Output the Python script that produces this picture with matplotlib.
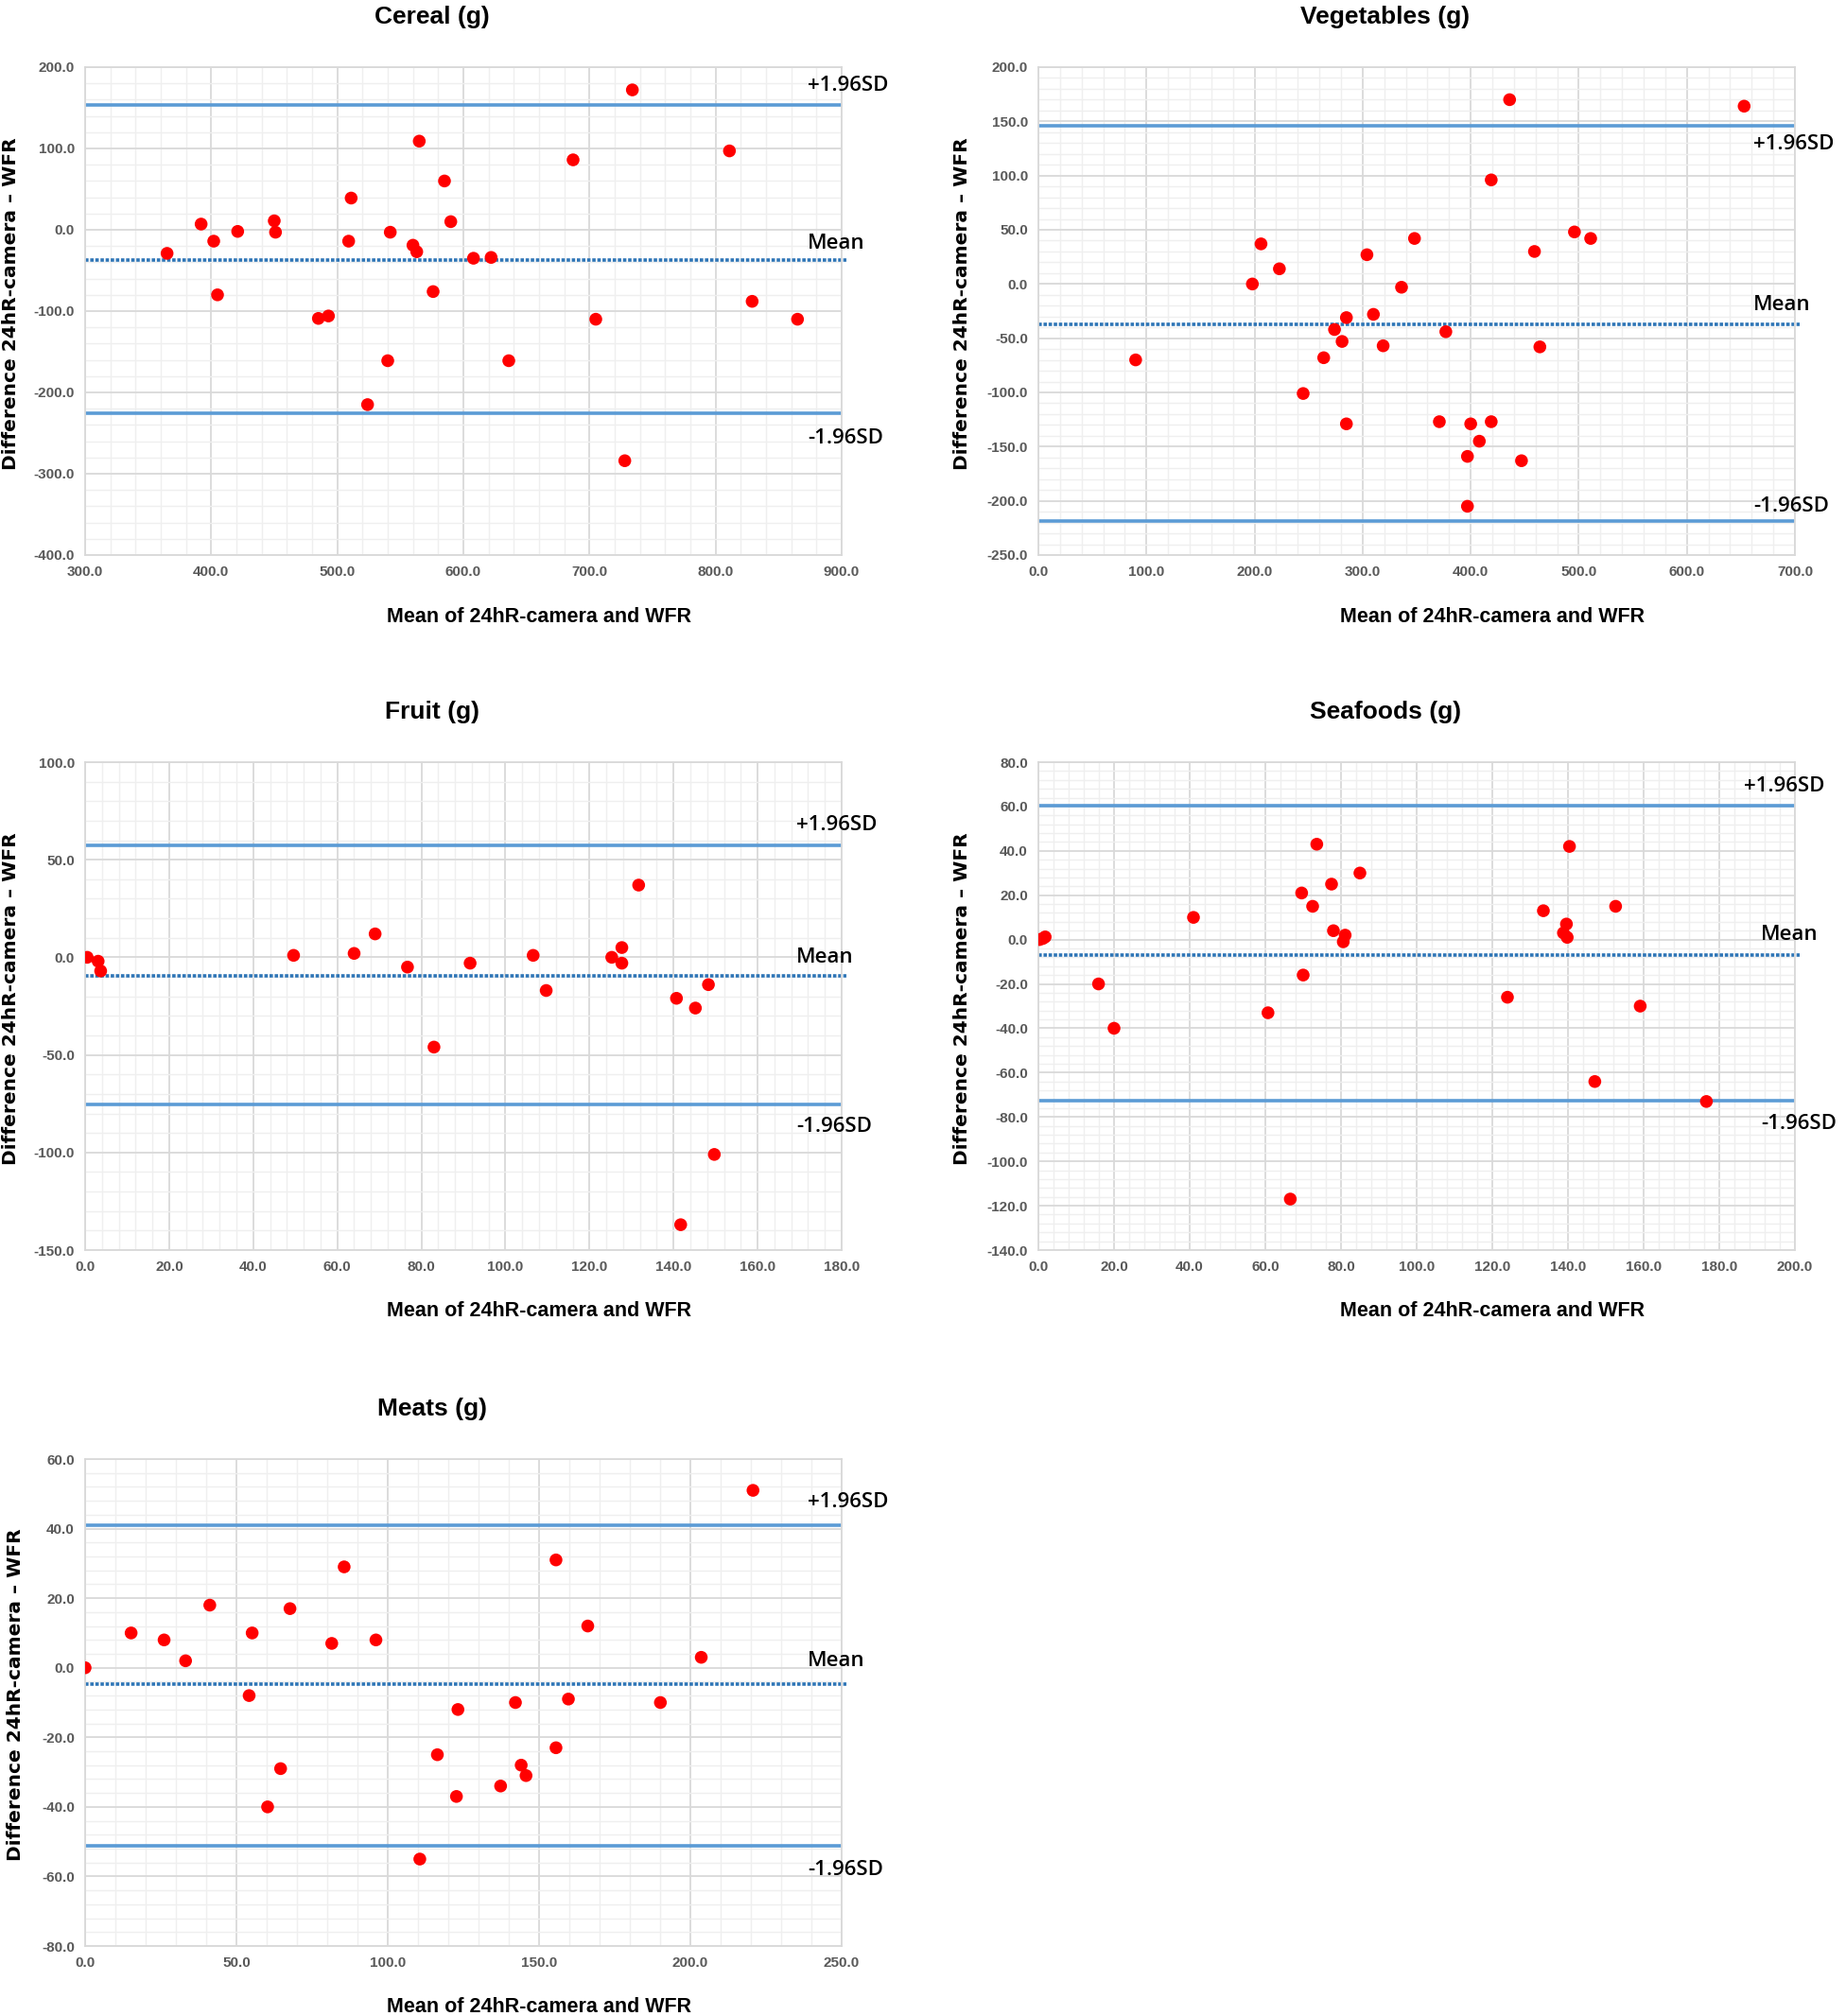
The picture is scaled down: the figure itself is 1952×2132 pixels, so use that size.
import matplotlib
matplotlib.use("Agg")
import matplotlib.pyplot as plt
from matplotlib.ticker import MultipleLocator, FormatStrFormatter
import matplotlib.transforms as mtransforms

plt.rcParams['font.family'] = ['Liberation Sans', 'DejaVu Sans']

# ---------------- data ----------------
titles = ["Cereal (g)", "Vegetables (g)", "Fruit (g)", "Seafoods (g)", "Meats (g)"]

cereal_x = [365, 392, 402, 405, 421, 450, 451, 485, 493, 509, 511, 524, 540, 542, 560,
            563, 565, 576, 585, 590, 608, 622, 636, 687, 705, 728, 734, 811, 829, 865]
cereal_y = [-29, 7, -14, -80, -2, 11, -3, -109, -106, -14, 39, -215, -161, -3, -19,
            -27, 109, -76, 60, 10, -35, -34, -161, 86, -110, -284, 172, 97, -88, -110]
cereal_loa = [154, -37, -226]

veg_x = [90, 198, 206, 223, 245, 264, 274, 281, 285, 285, 304, 310, 319, 336, 348,
         371, 377, 397, 397, 400, 408, 419, 419, 436, 447, 459, 464, 496, 511, 653]
veg_y = [-70, 0, 37, 14, -101, -68, -42, -53, -31, -129, 27, -28, -57, -3, 42,
         -127, -44, -159, -205, -129, -145, -127, 96, 170, -163, 30, -58, 48, 42, 164]
veg_loa = [146, -37, -219]

fruit_x = [0.5, 3.1, 3.7, 49.6, 64.0, 69.0, 76.7, 83.0, 91.6, 106.6, 109.7, 125.3, 127.7,
           127.7, 131.7, 140.7, 141.7, 145.2, 148.3, 149.7]
fruit_y = [0, -2, -7, 1, 2, 12, -5, -46, -3, 1, -17, 0, 5, -3, 37, -21, -137, -26, -14, -101]
fruit_loa = [57.2, -9.4, -75.5]

sea_x = [0.3, 1.2, 1.8, 15.9, 20.0, 41.0, 60.7, 66.6, 69.6, 70.0, 72.5, 73.6, 77.5, 78.0,
         80.6, 81.1, 85.0, 124.0, 133.5, 138.8, 139.6, 139.8, 140.4, 147.1, 152.6, 159.1, 176.6]
sea_y = [0, 0.5, 1.2, -20, -40, 10, -33, -117, 21, -16, 15, 43, 25, 4,
         -1, 2, 30, -26, 13, 3, 7, 1, 42, -64, 15, -30, -73]
sea_loa = [60.4, -6.9, -72.7]

meat_x = [0, 15.2, 26.1, 33.2, 41.2, 54.2, 55.2, 60.3, 64.6, 67.7, 81.5, 85.6, 96.1, 110.6,
          116.4, 122.7, 123.2, 137.3, 142.2, 144.1, 145.7, 155.6, 155.6, 159.7, 166.1,
          190.1, 203.6, 220.7]
meat_y = [0, 10, 8, 2, 18, -8, 10, -40, -29, 17, 7, 29, 8, -55,
          -25, -37, -12, -34, -10, -28, -31, -23, 31, -9, 12,
          -10, 3, 51]
meat_loa = [41.1, -4.6, -51.3]

line_labels = ["+1.96SD", "Mean", "-1.96SD"]
xlabel = "Mean of 24hR-camera and WFR"
ylabel = "Difference 24hR-camera \u2013 WFR"

# ---------------- layout ----------------
W, H = 1952, 2132
fig = plt.figure(figsize=(W / 100, H / 100), dpi=100)

panels = [
    dict(x=cereal_x, y=cereal_y, loa=cereal_loa, xlim=(300, 900), ylim=(-400, 200),
         xmaj=100, xmin=20, ymaj=100, ymin=20, box=(90, 71, 890, 587),
         lab_x=[0.955, 0.955, 0.955], lab_y=[177, -17, -256], ylab_x=12),
    dict(x=veg_x, y=veg_y, loa=veg_loa, xlim=(0, 700), ylim=(-250, 200),
         xmaj=100, xmin=20, ymaj=50, ymin=10, box=(1098, 71, 1898, 587),
         lab_x=[0.945, 0.945, 0.945], lab_y=[129, -19, -205], ylab_x=1018),
    dict(x=fruit_x, y=fruit_y, loa=fruit_loa, xlim=(0, 180), ylim=(-150, 100),
         xmaj=20, xmin=4, ymaj=50, ymin=10, box=(90, 806, 890, 1322),
         lab_x=[0.94, 0.94, 0.94], lab_y=[68, 0, -87], ylab_x=12),
    dict(x=sea_x, y=sea_y, loa=sea_loa, xlim=(0, 200), ylim=(-140, 80),
         xmaj=20, xmin=4, ymaj=20, ymin=4, box=(1098, 806, 1898, 1322),
         lab_x=[0.933, 0.955, 0.955], lab_y=[69.3, 2.2, -83], ylab_x=1018),
    dict(x=meat_x, y=meat_y, loa=meat_loa, xlim=(0, 250), ylim=(-80, 60),
         xmaj=50, xmin=10, ymaj=20, ymin=4, box=(90, 1543, 890, 2058),
         lab_x=[0.955, 0.955, 0.955], lab_y=[47.5, 2, -58], ylab_x=17),
]

for i, p in enumerate(panels):
    l, t, r, b = p["box"]
    ax = fig.add_axes([l / W, 1 - b / H, (r - l) / W, (b - t) / H])
    ax.set_xlim(*p["xlim"])
    ax.set_ylim(*p["ylim"])
    ax.xaxis.set_major_locator(MultipleLocator(p["xmaj"]))
    ax.xaxis.set_minor_locator(MultipleLocator(p["xmin"]))
    ax.yaxis.set_major_locator(MultipleLocator(p["ymaj"]))
    ax.yaxis.set_minor_locator(MultipleLocator(p["ymin"]))
    ax.xaxis.set_major_formatter(FormatStrFormatter("%.1f"))
    ax.yaxis.set_major_formatter(FormatStrFormatter("%.1f"))
    ax.grid(which="major", color="#D9D9D9", linewidth=1.3)
    ax.grid(which="minor", color="#EFEFEF", linewidth=1.0)
    ax.set_axisbelow(True)
    ax.tick_params(which="both", length=0, labelsize=11, labelcolor="#595959", pad=8)
    for lbl in ax.get_xticklabels() + ax.get_yticklabels():
        lbl.set_fontweight("bold")
    for s in ax.spines.values():
        s.set_color("#D9D9D9")
        s.set_linewidth(1.3)

    up, mn, lo = p["loa"]
    ax.axhline(up, color="#5B9BD5", linewidth=2.6, zorder=2)
    ax.axhline(lo, color="#5B9BD5", linewidth=2.6, zorder=2)
    ax.axhline(mn, xmax=1.006, color="#2E75B6", linewidth=2.6,
               linestyle=(0, (1.0, 0.5)), zorder=2, clip_on=False)
    ax.scatter(p["x"], p["y"], s=95, color="#FF0000", zorder=3, edgecolors="none")

    trans = mtransforms.blended_transform_factory(ax.transAxes, ax.transData)
    for lab, lx, ly in zip(line_labels, p["lab_x"], p["lab_y"]):
        ax.text(lx, ly, lab, transform=trans, ha="left", va="center",
                fontsize=16, color="black", clip_on=False,
                family=["Open Sans", "Liberation Sans", "DejaVu Sans"], fontweight="semibold")

    cx = (l + r) / 2
    title_y = t - 53
    fig.text((cx - 33) / W, 1 - title_y / H, titles[i], ha="center", va="center",
             fontsize=19, fontweight="bold")
    fig.text((cx + 80) / W, 1 - (b + 65) / H, xlabel, ha="center", va="center",
             fontsize=15.5, fontweight="bold")
    fig.text(p["ylab_x"] / W, 1 - ((t + b) / 2 - 8) / H, ylabel, ha="center", va="center",
             rotation=90, fontsize=14.5, fontweight="bold", family="DejaVu Sans")

fig.savefig("out.png", dpi=100, facecolor="white")
